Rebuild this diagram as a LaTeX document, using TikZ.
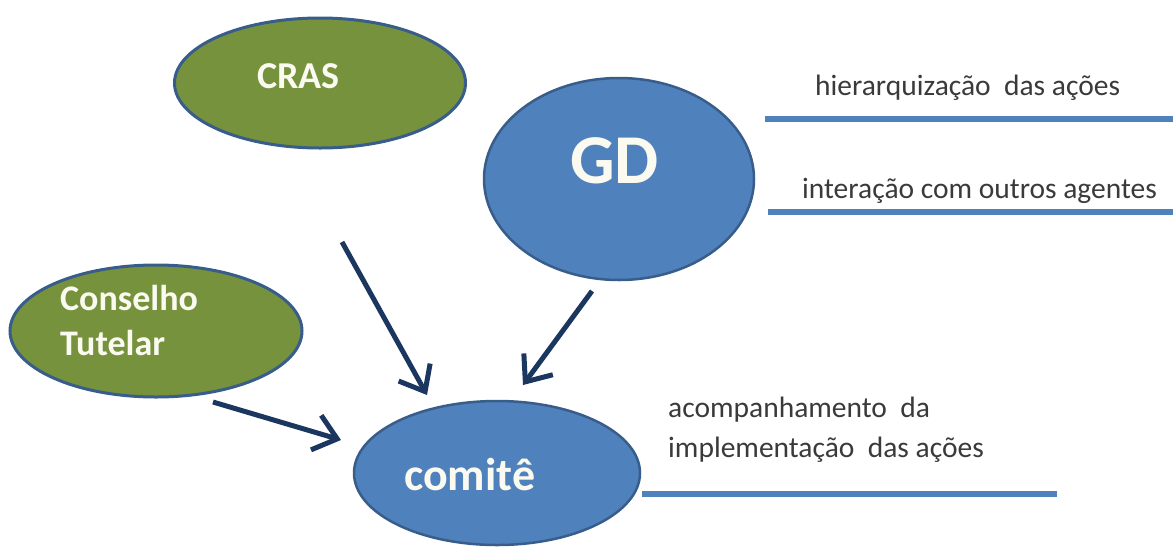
\documentclass[tikz,border=0pt]{standalone}
\usepackage{fontspec}
\setmainfont{Carlito}
\usetikzlibrary{shapes.geometric,arrows.meta}
\definecolor{olive}{HTML}{76923C}
\definecolor{bluefill}{HTML}{4F81BD}
\definecolor{blueedge}{HTML}{385D8A}
\definecolor{navy}{HTML}{1B365F}
\definecolor{txtgray}{HTML}{3A3A3A}
\definecolor{cream}{HTML}{FAFAF0}
\tikzset{
  greenell/.style={ellipse, draw=blueedge, line width=3pt, fill=olive, inner sep=0pt},
  blueell/.style={ellipse, draw=blueedge, line width=2.5pt, fill=bluefill, inner sep=0pt},
  intext/.style={text=cream, font=\bfseries, anchor=base west, inner sep=0pt},
  sidetext/.style={text=txtgray, anchor=base west, inner sep=0pt, font=\fontsize{29.5}{40}\selectfont},
  rule/.style={draw=bluefill, line width=5.5pt},
  flow/.style={draw=navy, line width=5pt, -{Straight Barb[length=22pt, width=36pt, line width=5pt]}},
}
\begin{document}
\begin{tikzpicture}[x=1pt, y=-1pt]
\useasboundingbox (0,0) rectangle (1173,547);
% ellipses
\node[greenell, minimum width=291pt, minimum height=130pt] (cras) at (320,83) {};
\node[blueell, minimum width=270pt, minimum height=202pt] (gd) at (619,179) {};
\node[greenell, minimum width=292pt, minimum height=132pt] (ct) at (156,331) {};
\node[blueell, minimum width=286pt, minimum height=144pt] (com) at (497,473) {};
% labels inside
\node[intext, font=\bfseries\fontsize{38}{40}\selectfont] (crast) at (257,88) {CRAS};
\node[intext, font=\bfseries\fontsize{70}{70}\selectfont] (gdt) at (570,183) {GD};
\node[intext, font=\bfseries\fontsize{36}{45}\selectfont] (ct1) at (60,310) {Conselho};
\node[intext, font=\bfseries\fontsize{36}{45}\selectfont] (ct2) at (60,355) {Tutelar};
\node[intext, font=\bfseries\fontsize{46}{50}\selectfont] (comt) at (404,490) {comitê};
% side texts and rules
\node[sidetext] (h1) at (815,95) {hierarquização\ \ das ações};
\coordinate (r1a) at (765,119); \coordinate (r1b) at (1173,119);
\draw[rule] (r1a) -- (r1b);
\node[sidetext] (h2) at (802,198) {interação com outros agentes};
\coordinate (r2a) at (768,212); \coordinate (r2b) at (1173,212);
\draw[rule] (r2a) -- (r2b);
\node[sidetext] (h3) at (668,417) {acompanhamento\ \ da};
\node[sidetext] (h4) at (668,457) {implementação\ \ das ações};
\coordinate (r3a) at (642,494); \coordinate (r3b) at (1057,494);
\draw[rule] (r3a) -- (r3b);
% arrows
\coordinate (a1s) at (342,242); \coordinate (a1e) at (427,395);
\coordinate (a2s) at (592,291); \coordinate (a2e) at (523,385);
\coordinate (a3s) at (213,402); \coordinate (a3e) at (341,440);
\draw[flow] (a1s) -- (a1e);
\draw[flow] (a2s) -- (a2e);
\draw[flow] (a3s) -- (a3e);
\end{tikzpicture}
\end{document}
